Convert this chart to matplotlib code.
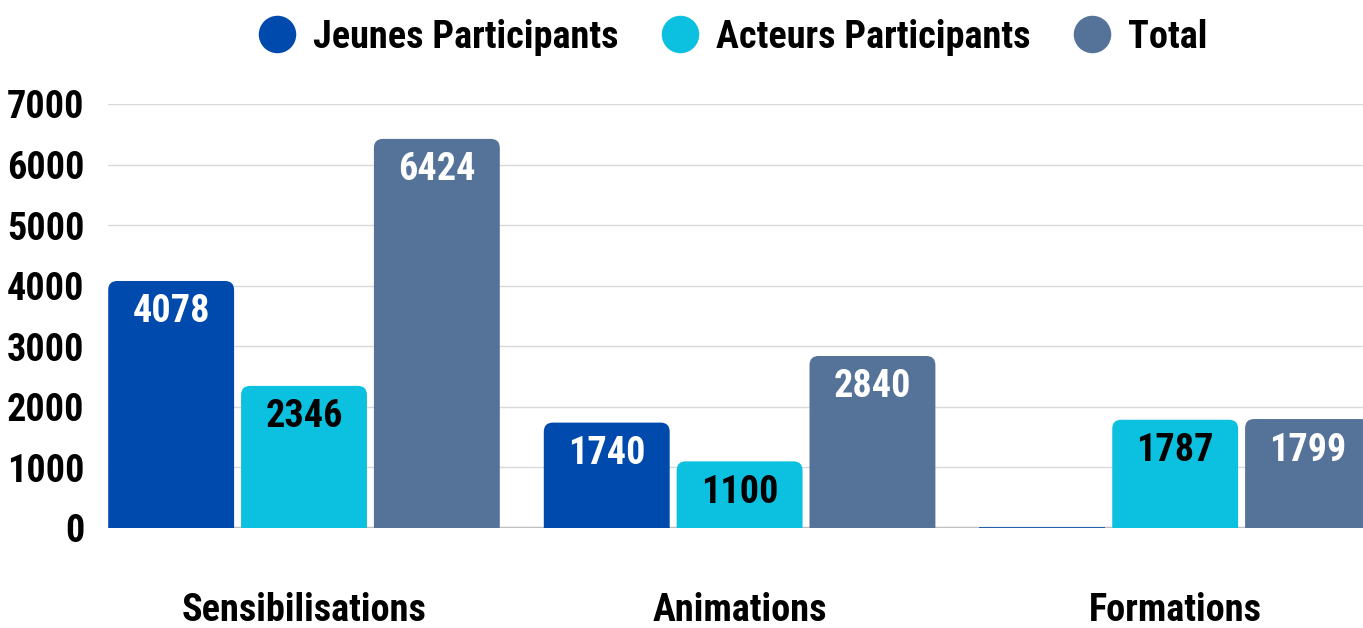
import matplotlib
matplotlib.use("Agg")
import matplotlib.pyplot as plt
from matplotlib.patches import FancyBboxPatch
from matplotlib.lines import Line2D

plt.rcParams['font.family'] = ['Roboto Condensed', 'Open Sans Condensed', 'Liberation Sans Narrow',
                               'DejaVu Sans Condensed', 'DejaVu Sans']
plt.rcParams['font.stretch'] = 'condensed'
plt.rcParams['font.weight'] = 'bold'

categories = ["Sensibilisations", "Animations", "Formations"]
series_names = ["Jeunes Participants", "Acteurs Participants", "Total"]
jeunes = [4078, 1740, 12]
acteurs = [2346, 1100, 1787]
total = [6424, 2840, 1799]
labels_jeunes = ["4078", "1740", ""]
labels_acteurs = ["2346", "1100", "1787"]
labels_total = ["6424", "2840", "1799"]
yticks = [0, 1000, 2000, 3000, 4000, 5000, 6000, 7000]

colors = ["#004AAD", "#0CC0DF", "#557399"]
label_colors = ["white", "black", "white"]

W, H = 1363, 628
fig = plt.figure(figsize=(W / 100, H / 100), dpi=100)
ax = fig.add_axes([108 / W, 1 - 528 / H, 1 - 108 / W, (528 - 104) / H])

xmin, xmax = -0.45, (1363 - 303) / 436
ax.set_xlim(xmin, xmax)
ax.set_ylim(0, 7000)

bw = 0.289
step = 0.305
fs = 27.5

x_per_px = (xmax - xmin) / (W - 108)
y_per_px = 7000 / 424
aspect = y_per_px / x_per_px
r = 9 * x_per_px

all_series = [jeunes, acteurs, total]
all_labels = [labels_jeunes, labels_acteurs, labels_total]
for si, (vals, labs) in enumerate(zip(all_series, all_labels)):
    for ci, v in enumerate(vals):
        xc = ci + (si - 1) * step
        if v * 1.0 / y_per_px > 2 * 9:
            p = FancyBboxPatch((xc - bw / 2, -3000), bw, v + 3000,
                               boxstyle=f"round,pad=0,rounding_size={r}",
                               mutation_aspect=aspect,
                               facecolor=colors[si], edgecolor='none', zorder=3)
            ax.add_patch(p)
        else:
            ax.bar(xc, v, width=bw, color=colors[si], zorder=3, alpha=0.8)
        if labs[ci]:
            ax.text(xc, v - 31 * y_per_px, labs[ci], ha='center', va='center',
                    fontsize=fs, color=label_colors[si], fontweight='bold', zorder=4)

ax.set_yticks(yticks)
ax.set_yticklabels([str(t) for t in yticks], fontsize=fs, fontweight='bold')
ax.tick_params(axis='y', length=0, pad=17)
ax.set_xticks(range(len(categories)))
ax.set_xticklabels(categories, fontsize=fs, fontweight='bold')
ax.tick_params(axis='x', length=0, pad=46)
for s in ax.spines.values():
    s.set_visible(False)
ax.grid(axis='y', color='#d9d9d9', linewidth=1, zorder=0)
ax.set_axisbelow(True)
ax.axhline(0, color='#bfbfbf', linewidth=2.5, zorder=2)

handles = [Line2D([], [], marker='o', linestyle='none', markersize=27,
                  markerfacecolor=c, markeredgecolor='none') for c in colors]
fig.legend(handles, series_names, loc='center', bbox_to_anchor=(0.536, 1 - 37 / H),
           ncol=3, frameon=False, fontsize=fs, handletextpad=0.35,
           columnspacing=1.0, handlelength=1.2)

fig.savefig("out.png", dpi=100, facecolor='white')
